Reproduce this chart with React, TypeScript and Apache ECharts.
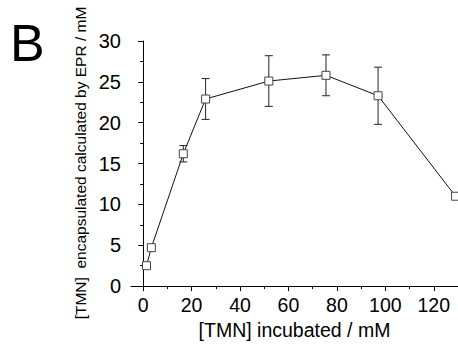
import React, { useEffect, useRef } from "react";
import * as echarts from "echarts";

const xValues = [1.4, 3.4, 16.6, 25.8, 51.9, 75.5, 97, 129];
const yValues = [2.5, 4.7, 16.2, 22.9, 25.1, 25.8, 23.3, 11.0];
const yErrors = [0.3, 0.2, 1.0, 2.5, 3.1, 2.5, 3.5, 0.4];
const xTickValues = [0, 20, 40, 60, 80, 100, 120];
const xMinorTickValues = [10, 30, 50, 70, 90, 110];
const xTitle = "[TMN] incubated / mM";
const yTitle = "[TMN]\u00a0 encapsulated calculated by EPR / mM";
const panelLabel = "B";

const FONT = "'Liberation Sans', Arial, sans-serif";

export default function App() {
  const ref = useRef<HTMLDivElement>(null);
  useEffect(() => {
    if (!ref.current) return;
    const chart = echarts.init(ref.current, null, { renderer: "svg" });
    const points = xValues.map((x, i) => [x, yValues[i]]);
    const errData = xValues.map((x, i) => [x, yValues[i], yErrors[i]]);
    chart.setOption({
      animation: false,
      backgroundColor: "#fff",
      textStyle: { fontFamily: FONT },
      grid: { left: 131, top: 41, right: 0, bottom: 53, containLabel: false },
      xAxis: [
        {
          type: "value",
          min: -5,
          max: 130,
          position: "bottom",
          axisLine: { show: true, lineStyle: { color: "#000", width: 1 } },
          axisTick: { show: true, length: 5, customValues: xTickValues, lineStyle: { color: "#000" } },
          axisLabel: {
            show: true,
            customValues: xTickValues,
            margin: 9,
            fontSize: 19.5,
            color: "#000",
            fontFamily: FONT,
          },
          splitLine: { show: false },
          name: xTitle,
          nameLocation: "middle",
          nameGap: 32,
          nameTextStyle: { fontSize: 19.5, color: "#000", fontFamily: FONT },
        },
        {
          type: "value",
          min: -5,
          max: 130,
          position: "bottom",
          axisLine: { show: false },
          axisTick: { show: true, length: 3, customValues: xMinorTickValues, lineStyle: { color: "#000" } },
          axisLabel: { show: false },
          splitLine: { show: false },
        },
      ],
      yAxis: {
        type: "value",
        min: 0,
        max: 30,
        interval: 5,
        axisLine: { show: true, lineStyle: { color: "#000", width: 1 } },
        axisTick: { show: true, length: 5, lineStyle: { color: "#000" } },
        minorTick: { show: true, splitNumber: 2, length: 3, lineStyle: { color: "#000" } },
        axisLabel: { margin: 10, fontSize: 20, color: "#000", fontFamily: FONT },
        splitLine: { show: false },
      },
      graphic: [
        {
          type: "text",
          left: 10,
          top: 17,
          style: { text: panelLabel, fontSize: 52, fill: "#000", fontFamily: FONT },
        },
        {
          type: "text",
          x: 80,
          y: 163,
          rotation: Math.PI / 2,
          style: {
            text: yTitle,
            fontSize: 15.5,
            fill: "#000",
            fontFamily: FONT,
            align: "center",
            verticalAlign: "middle",
          },
        },
      ],
      series: [
        {
          type: "custom",
          xAxisIndex: 0,
          z: 1,
          clip: false,
          data: errData,
          renderItem: (params: any, api: any) => {
            const x = api.value(0);
            const y = api.value(1);
            const e = api.value(2);
            const top = api.coord([x, y + e]);
            const bot = api.coord([x, y - e]);
            const hw = 4;
            const style = { stroke: "#222", lineWidth: 1 };
            return {
              type: "group",
              children: [
                { type: "line", shape: { x1: top[0], y1: top[1], x2: bot[0], y2: bot[1] }, style },
                { type: "line", shape: { x1: top[0] - hw, y1: top[1], x2: top[0] + hw, y2: top[1] }, style },
                { type: "line", shape: { x1: bot[0] - hw, y1: bot[1], x2: bot[0] + hw, y2: bot[1] }, style },
              ],
            };
          },
        },
        {
          type: "line",
          xAxisIndex: 0,
          z: 3,
          clip: false,
          data: points,
          symbol: "rect",
          symbolSize: 8,
          showSymbol: true,
          lineStyle: { color: "#111", width: 1 },
          itemStyle: { color: "#fff", borderColor: "#444", borderWidth: 1 },
        },
      ],
    });
    return () => chart.dispose();
  }, []);
  return (
    <div
      ref={ref}
      style={{ position: "absolute", left: 0, top: 0, width: 458, height: 345 }}
    />
  );
}
